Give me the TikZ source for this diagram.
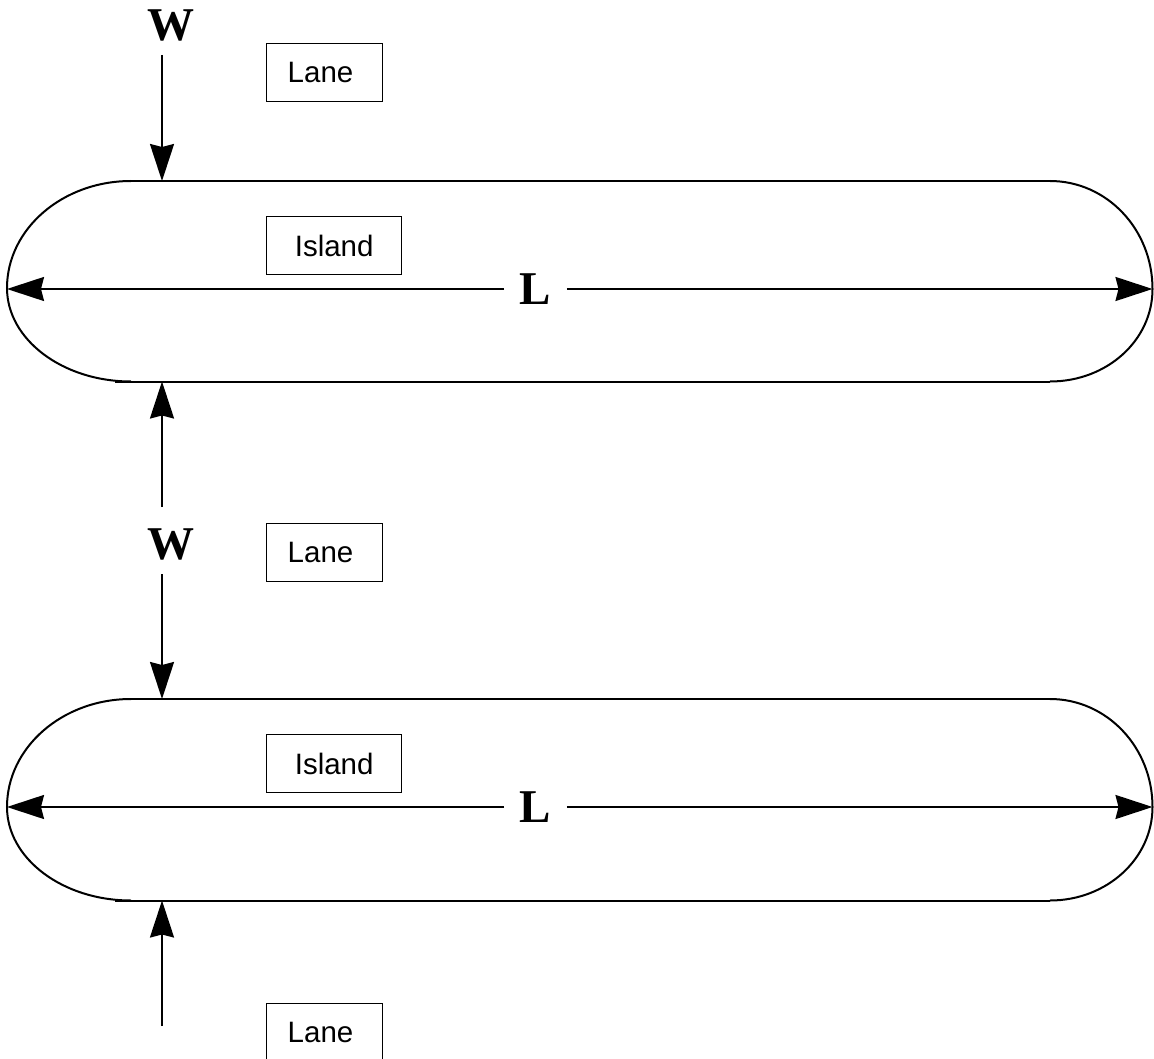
\documentclass[tikz,border=0pt]{standalone}
\usepackage{fontspec}
\setmainfont{Liberation Serif}
\newfontfamily\lanefont{Liberation Sans}
\usetikzlibrary{arrows.meta}
\begin{document}
\begin{tikzpicture}[x=1pt,y=-1pt,
  shape line/.style={line width=2pt,line cap=butt},
  dimarrow/.style={line width=2pt,-{Stealth[length=37pt,width=24pt,inset=3pt]}},
  labelbox/.style={draw,line width=1.4pt,minimum height=58pt,inner ysep=0pt,
    font=\lanefont\fontsize{29.5}{32}\selectfont,anchor=north west},
  dimlabel/.style={font=\bfseries\fontsize{47}{50}\selectfont,inner sep=0pt}]
\useasboundingbox (0,0) rectangle (1154,1059);
\clip (0,0) rectangle (1154,1059);

% ---------- top island ----------
\draw[shape line] (115,381.5) -- (1050,381.5);
\draw[shape line] (131,181) -- (1050,181);
\draw[shape line] (131,181) .. controls (62.5,181) and (7,229) .. (7,288)
  .. controls (7,339.4) and (62.5,381.5) .. (131,381.5);
\draw[shape line] (1050,181) .. controls (1106.9,181) and (1152.5,229.4) .. (1152.5,289)
  .. controls (1152.5,340.4) and (1106.9,381.5) .. (1050,381.5);

% ---------- bottom island ----------
\draw[shape line] (115,900.5) -- (1050,900.5);
\draw[shape line] (131,699) -- (1050,699);
\draw[shape line] (131,699) .. controls (62.5,699) and (7,747.4) .. (7,807)
  .. controls (7,858.5) and (62.5,900.5) .. (131,900.5);
\draw[shape line] (1050,699) .. controls (1106.9,699) and (1152.5,747.4) .. (1152.5,807)
  .. controls (1152.5,858.5) and (1106.9,900.5) .. (1050,900.5);

% ---------- label boxes ----------
\node[labelbox,minimum width=116pt,text width=74pt,inner xsep=21pt,align=left] (lane1) at (266,43) {Lane};
\node[labelbox,minimum width=135pt,align=center] (island1) at (266,216) {Island};
\node[labelbox,minimum width=116pt,text width=74pt,inner xsep=21pt,align=left] (lane2) at (266,523) {Lane};
\node[labelbox,minimum width=135pt,align=center] (island2) at (266,734) {Island};
\node[labelbox,minimum width=116pt,text width=74pt,inner xsep=21pt,align=left] (lane3) at (266,1003) {Lane};

% ---------- L dimensions ----------
\node[dimlabel,inner xsep=15.5pt] (L1) at (535.5,289) {L};
\coordinate (L1l) at (7,289);
\coordinate (L1r) at (1152.5,289);
\draw[dimarrow] (L1.west) -- (L1l);
\draw[dimarrow] (L1.east) -- (L1r);

\node[dimlabel,inner xsep=15.5pt] (L2) at (535.5,807) {L};
\coordinate (L2l) at (7,807);
\coordinate (L2r) at (1152.5,807);
\draw[dimarrow] (L2.west) -- (L2l);
\draw[dimarrow] (L2.east) -- (L2r);

% ---------- W dimensions ----------
\node[dimlabel] (W1) at (171,25) {W};
\coordinate (W1s) at (162,55);
\coordinate (W1t) at (162,181);
\draw[dimarrow] (W1s) -- (W1t);

\node[dimlabel] (W2) at (170.5,544) {W};
\coordinate (W2a) at (162,507);
\coordinate (W2at) at (162,381.5);
\coordinate (W2b) at (162,574);
\coordinate (W2bt) at (162,699);
\draw[dimarrow] (W2a) -- (W2at);
\draw[dimarrow] (W2b) -- (W2bt);

\coordinate (W3s) at (162,1026);
\coordinate (W3t) at (162,900.5);
\draw[dimarrow] (W3s) -- (W3t);
\end{tikzpicture}
\end{document}
